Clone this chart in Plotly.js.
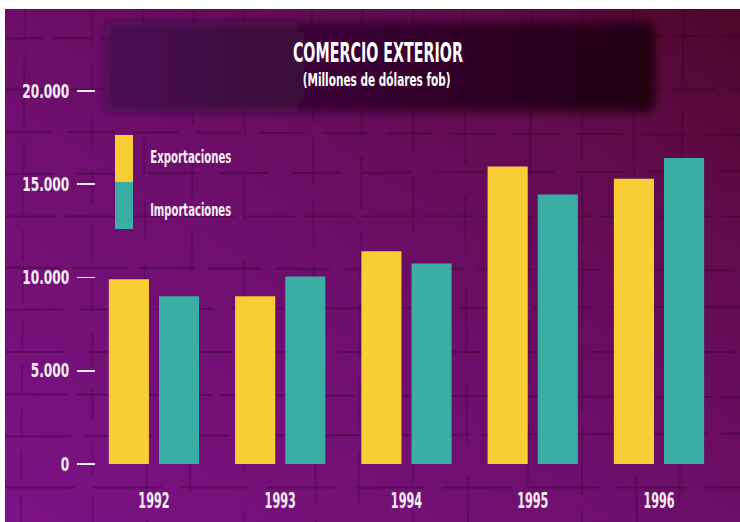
<!DOCTYPE html>
<html>
<head>
<meta charset="utf-8">
<script src="https://cdn.plot.ly/plotly-3.0.1.min.js"></script>
<style>html,body{margin:0;padding:0;background:#fff;}#chart{width:740px;height:522px;}</style>
</head>
<body>
<div id="chart"></div>
<script>
// ---- data ----
const years = ['1992', '1993', '1994', '1995', '1996'];
const exportaciones = [9900, 9000, 11400, 15950, 15300];
const importaciones = [9000, 10050, 10750, 14450, 16400];
const seriesNames = ['Exportaciones', 'Importaciones'];
const yTickVals = [0, 5000, 10000, 15000, 20000];
const yTickText = ['0', '5.000', '10.000', '15.000', '20.000'];
const titleText = 'COMERCIO EXTERIOR';
const subtitleText = '(Millones de dólares fob)';

// ---- styling ----
const YELLOW = '#f9cd36';
const TEAL = '#3aaea4';
const FONT = '"DejaVu Sans", sans-serif';

const W = 740, H = 522;
const M = {l: 96, r: 18, t: 60, b: 58};
const pw = W - M.l - M.r, ph = H - M.t - M.b;
const px = v => (v - M.l) / pw;      // pixel -> paper x
const py = v => (H - M.b - v) / ph;  // pixel -> paper y

function svgUri(svg) { return 'data:image/svg+xml;charset=utf-8,' + encodeURIComponent(svg); }

// background gradient with faint crack/brick texture
let tex = '';
for (let r = 0; r < 12; r++) {
  const y = 30 + r * 45 + ((r * 7) % 9);
  tex += `<path d="M0 ${y} L740 ${y + ((r % 3) - 1) * 3}" stroke="#1a0010" stroke-opacity="0.28" stroke-width="2" fill="none" stroke-dasharray="${40 + r * 3} ${8 + (r % 4) * 5}"/>`;
}
for (let c = 0; c < 14; c++) {
  const x = 20 + c * 55 + ((c * 13) % 17);
  tex += `<path d="M${x} 0 L${x + ((c % 3) - 1) * 4} 522" stroke="#1a0010" stroke-opacity="0.2" stroke-width="2" fill="none" stroke-dasharray="${30 + c * 4} ${15 + (c % 5) * 6}"/>`;
}
const bgSvg = `<svg xmlns="http://www.w3.org/2000/svg" width="735" height="513" viewBox="0 0 740 522" preserveAspectRatio="none">
<defs><linearGradient id="g" x1="0" y1="1" x2="1" y2="0">
<stop offset="0" stop-color="#7c1286"/><stop offset="0.45" stop-color="#6e0e6c"/><stop offset="0.8" stop-color="#600a4a"/><stop offset="1" stop-color="#4e0628"/></linearGradient></defs>
<rect width="740" height="522" fill="url(#g)"/>${tex}</svg>`;

const boxSvg = `<svg xmlns="http://www.w3.org/2000/svg" width="590" height="120" viewBox="0 0 590 120">
<defs><linearGradient id="b" x1="0" y1="0" x2="1" y2="0">
<stop offset="0" stop-color="#480a52"/><stop offset="0.5" stop-color="#360530"/><stop offset="1" stop-color="#220210"/></linearGradient>
<filter id="f" x="-10%" y="-30%" width="120%" height="160%"><feGaussianBlur stdDeviation="5"/></filter></defs>
<rect x="20" y="15" width="550" height="90" rx="8" fill="url(#b)" filter="url(#f)"/></svg>`;

const traces = [
  {type: 'bar', x: years, y: exportaciones, name: seriesNames[0], marker: {color: YELLOW, line: {width: 0}}, hoverinfo: 'x+y'},
  {type: 'bar', x: years, y: importaciones, name: seriesNames[1], marker: {color: TEAL, line: {width: 0}}, hoverinfo: 'x+y'}
];

const layout = {
  width: W, height: H,
  margin: M,
  paper_bgcolor: '#ffffff',
  plot_bgcolor: 'rgba(0,0,0,0)',
  showlegend: false,
  barmode: 'group',
  bargap: 0.206,
  bargroupgap: 0.2,
  font: {family: FONT, color: '#ffffff'},
  xaxis: {
    type: 'category',
    range: [-0.459, 4.499],
    showgrid: false, zeroline: false, showline: false,
    ticks: '', ticklabelstandoff: 21,
    tickfont: {family: FONT, size: 22, color: '#f6eef6', weight: 'bold'},
    fixedrange: true
  },
  yaxis: {
    range: [0, 21660],
    showgrid: false, zeroline: false, showline: false,
    tickmode: 'array', tickvals: yTickVals, ticktext: yTickText,
    ticks: 'outside', ticklen: 18, tickwidth: 1.6, tickcolor: '#f6eef6',
    ticklabelstandoff: 4,
    tickfont: {family: FONT, size: 19, color: '#f6eef6', weight: 'bold'},
    fixedrange: true
  },
  images: [
    {source: svgUri(bgSvg), xref: 'paper', yref: 'paper', x: px(5), y: py(9), sizex: 735 / pw, sizey: 513 / ph,
     xanchor: 'left', yanchor: 'top', sizing: 'stretch', layer: 'below'},
    {source: svgUri(boxSvg), xref: 'paper', yref: 'paper', x: px(85), y: py(7), sizex: 590 / pw, sizey: 120 / ph,
     xanchor: 'left', yanchor: 'top', sizing: 'stretch', layer: 'below'}
  ],
  shapes: [
    {type: 'rect', xref: 'paper', yref: 'paper', x0: px(115), x1: px(133), y0: py(182), y1: py(135), fillcolor: YELLOW, line: {width: 0}},
    {type: 'rect', xref: 'paper', yref: 'paper', x0: px(115), x1: px(133), y0: py(229), y1: py(182), fillcolor: TEAL, line: {width: 0}}
  ],
  annotations: [
    {text: titleText, name: 'w170', xref: 'paper', yref: 'paper', x: px(378), y: py(53), xanchor: 'center', yanchor: 'middle', showarrow: false,
     font: {family: FONT, size: 27, color: '#ffffff', weight: 'bold'}},
    {text: subtitleText, name: 'w148', xref: 'paper', yref: 'paper', x: px(376), y: py(80), xanchor: 'center', yanchor: 'middle', showarrow: false,
     font: {family: FONT, size: 17, color: '#ffffff', weight: 'bold'}},
    {text: seriesNames[0], name: 'w81', xref: 'paper', yref: 'paper', x: px(190.5), y: py(156), xanchor: 'center', yanchor: 'middle', showarrow: false,
     font: {family: FONT, size: 18, color: '#f8f0f8', weight: 'bold'}},
    {text: seriesNames[1], name: 'w81', xref: 'paper', yref: 'paper', x: px(190.5), y: py(209), xanchor: 'center', yanchor: 'middle', showarrow: false,
     font: {family: FONT, size: 18, color: '#f8f0f8', weight: 'bold'}}
  ]
};

// condense text horizontally (the original uses a very narrow condensed typeface)
function squeeze(el, factor) {
  const w = el.getComputedTextLength();
  if (w > 0) {
    el.setAttribute('textLength', (w * factor).toFixed(2));
    el.setAttribute('lengthAdjust', 'spacingAndGlyphs');
  }
}

Plotly.newPlot('chart', traces, layout, {displayModeBar: false, staticPlot: true}).then(gd => {
  gd.querySelectorAll('.ytick text').forEach(t => squeeze(t, 0.64));
  gd.querySelectorAll('.xtick text').forEach(t => squeeze(t, 0.51));
  const targets = [170, 148, 81, 81];
  gd.querySelectorAll('.annotation-text').forEach((t, i) => {
    const w = t.getComputedTextLength();
    if (w > 0 && targets[i]) squeeze(t, targets[i] / w);
  });
});
</script>
</body>
</html>
